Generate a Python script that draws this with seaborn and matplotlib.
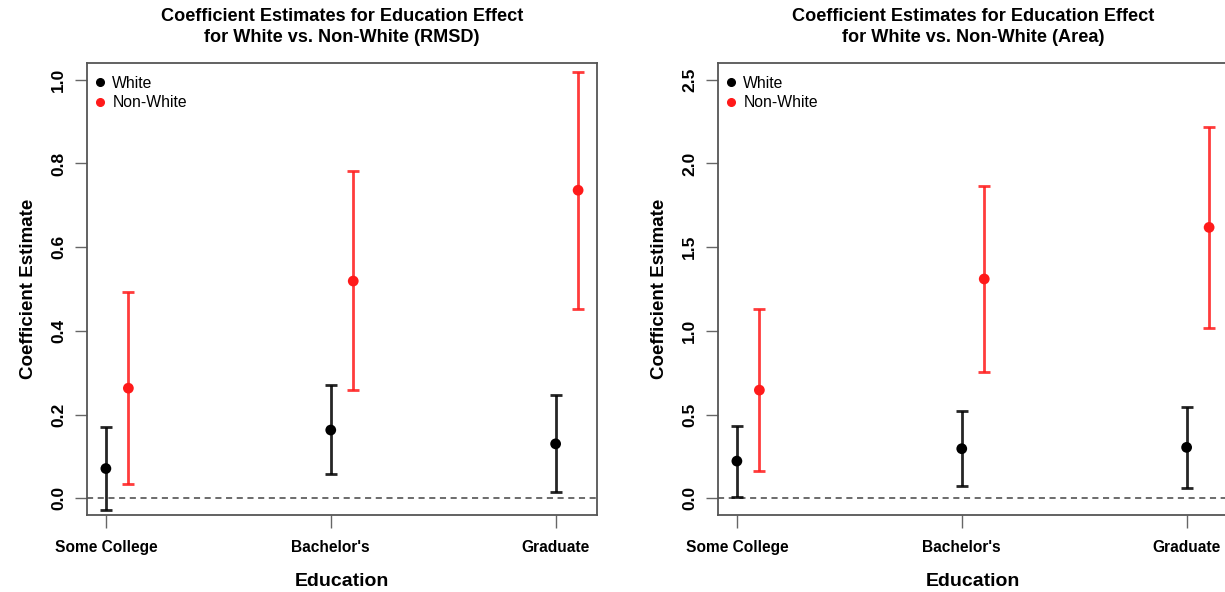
import numpy as np
import pandas as pd
import matplotlib
matplotlib.use("Agg")
import matplotlib.pyplot as plt
import seaborn as sns

# education levels (x axis)
levels = ["Some College", "Bachelor's", "Graduate"]
groups = ["White", "Non-White"]

# RMSD model
rmsd_white_est = [0.071, 0.163, 0.130]
rmsd_white_lo = [-0.029, 0.058, 0.016]
rmsd_white_hi = [0.170, 0.270, 0.246]
rmsd_nonwhite_est = [0.263, 0.519, 0.736]
rmsd_nonwhite_lo = [0.033, 0.258, 0.453]
rmsd_nonwhite_hi = [0.493, 0.782, 1.019]

# Area model
area_white_est = [0.222, 0.296, 0.304]
area_white_lo = [0.008, 0.074, 0.064]
area_white_hi = [0.430, 0.520, 0.544]
area_nonwhite_est = [0.646, 1.310, 1.618]
area_nonwhite_lo = [0.160, 0.756, 1.020]
area_nonwhite_hi = [1.131, 1.866, 2.216]

colors = {"White": "black", "Non-White": "#ff1a1a"}
offsets = {"White": 0.0, "Non-White": 0.1}


def make_df(w_est, w_lo, w_hi, n_est, n_lo, n_hi):
    rows = []
    for i, lev in enumerate(levels):
        rows.append({"level": lev, "group": "White", "est": w_est[i], "lo": w_lo[i], "hi": w_hi[i], "idx": i + 1})
        rows.append({"level": lev, "group": "Non-White", "est": n_est[i], "lo": n_lo[i], "hi": n_hi[i], "idx": i + 1})
    df = pd.DataFrame(rows)
    df["x"] = df["idx"] + df["group"].map(offsets)
    return df


sns.set_style("white")
plt.rcParams["font.family"] = ["Liberation Sans", "DejaVu Sans"]
plt.rcParams["text.color"] = "black"
plt.rcParams["axes.labelcolor"] = "black"
plt.rcParams["xtick.color"] = "black"
plt.rcParams["ytick.color"] = "black"

fig = plt.figure(figsize=(12.25, 5.92), dpi=100)
ax1 = fig.add_axes([87 / 1225, 77 / 592, 510 / 1225, 452 / 592])
ax2 = fig.add_axes([718 / 1225, 77 / 592, 510 / 1225, 452 / 592])

panels = [
    (ax1, make_df(rmsd_white_est, rmsd_white_lo, rmsd_white_hi, rmsd_nonwhite_est, rmsd_nonwhite_lo, rmsd_nonwhite_hi),
     "RMSD", (0, 1), [0.0, 0.2, 0.4, 0.6, 0.8, 1.0]),
    (ax2, make_df(area_white_est, area_white_lo, area_white_hi, area_nonwhite_est, area_nonwhite_lo, area_nonwhite_hi),
     "Area", (0, 2.5), [0.0, 0.5, 1.0, 1.5, 2.0, 2.5]),
]

for ax, df, name, (y0, y1), yticks in panels:
    ax.axhline(0, color="#444444", lw=1.1, ls=(0, (4, 3)), zorder=1)
    for g in groups:
        sub = df[df["group"] == g]
        ax.errorbar(sub["x"], sub["est"], yerr=[sub["est"] - sub["lo"], sub["hi"] - sub["est"]],
                    fmt="none", ecolor=colors[g], elinewidth=2, capsize=4.5, capthick=2,
                    alpha=0.85, zorder=2)
    sns.scatterplot(data=df, x="x", y="est", hue="group", palette=colors, hue_order=groups,
                    s=60, edgecolor="none", ax=ax, zorder=3, legend=False)

    pad_y = (y1 - y0) * 0.04
    ax.set_ylim(y0 - pad_y, y1 + pad_y)
    ax.set_xlim(0.916, 3.184)
    ax.set_xticks([1, 2, 3])
    ax.set_xticklabels(levels, fontsize=11.2, fontweight="bold")
    ax.set_yticks(yticks)
    ax.set_yticklabels([f"{t:.1f}" for t in yticks], fontsize=12.5, fontweight="bold",
                       rotation=90, va="center")
    ax.tick_params(axis="both", direction="out", length=9, width=1, color="#666666",
                   left=True, bottom=True)
    ax.tick_params(axis="x", pad=9)
    ax.tick_params(axis="y", pad=6)
    for sp in ax.spines.values():
        sp.set_color("#555555")
        sp.set_linewidth(1.3)
    ax.set_xlabel("Education", fontsize=14, fontweight="bold", labelpad=13)
    ax.set_ylabel("Coefficient Estimate", fontsize=13.5, fontweight="bold", labelpad=10)
    ax.set_title(f"Coefficient Estimates for Education Effect\nfor White vs. Non-White ({name})",
                 fontsize=13.1, fontweight="bold", pad=15, linespacing=1.3)

    # legend
    handles = [plt.Line2D([], [], marker="o", ls="none", color=colors[g], markersize=5.5) for g in groups]
    ax.legend(handles, groups, loc="upper left", frameon=False, fontsize=11.3,
              handletextpad=0.3, handlelength=0.9, borderaxespad=0.5, labelspacing=0.3,
              borderpad=0.3, bbox_to_anchor=(-0.012, 1.0))

fig.savefig("out.png", dpi=100)
